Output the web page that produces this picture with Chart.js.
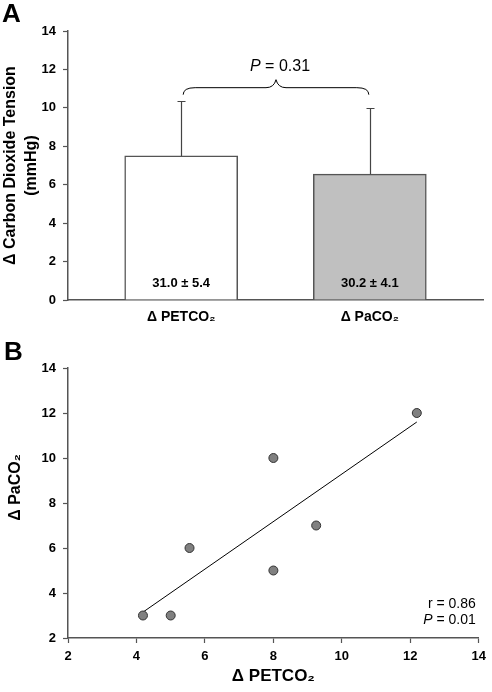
<!DOCTYPE html>
<html><head><meta charset="utf-8">
<script src="https://cdn.jsdelivr.net/npm/chart.js@4.4.1/dist/chart.umd.min.js"></script>
<style>
html,body{margin:0;padding:0;background:#fff;}
body{width:492px;height:692px;position:relative;overflow:hidden;font-family:"Liberation Sans",Arial,sans-serif;}
.panel{position:absolute;left:0;}
#wrapA{top:0;width:492px;height:340px;}
#wrapB{top:340px;width:492px;height:352px;}
.lbl{position:absolute;font-weight:bold;font-size:26px;line-height:1;color:#000;}
canvas{display:block;}
</style></head><body>
<div class="panel" id="wrapA"><canvas id="chartA" width="492" height="340"></canvas></div>
<div class="panel" id="wrapB"><canvas id="chartB" width="492" height="352"></canvas></div>
<div class="lbl" style="left:2px;top:0px;">A</div>
<div class="lbl" style="left:4px;top:338px;">B</div>
<script>
// ---- Panel A data ----
const categoriesA = ['Δ PETCO₂', 'Δ PaCO₂'];
const meansA = [7.5, 6.55];
const sdA = [2.85, 3.45];
const barNotesA = ['31.0 ± 5.4', '30.2 ± 4.1'];
const yTicksA = [0, 2, 4, 6, 8, 10, 12, 14];
const pValueA = '0.31';

// ---- Panel B data ----
const petco2B = [4.19, 5.0, 5.55, 8.0, 8.0, 9.25, 12.19];
const paco2B = [3, 3, 6, 10, 5, 7, 12];
const fitLineX = [4.19, 12.19];
const fitLineY = [3.15, 11.6];
const ticksB = [2, 4, 6, 8, 10, 12, 14];
const rValueB = '0.86';
const pValueB = '0.01';

const FAM = '"Liberation Sans", Arial, sans-serif';
const AX = '#555';

function mixedText(ctx, parts, x, y, align) {
  const widths = parts.map(p => { ctx.font = (p.italic ? 'italic ' : '') + p.size + 'px ' + FAM; return ctx.measureText(p.t).width; });
  const total = widths.reduce((a, b) => a + b, 0);
  let cx = align === 'right' ? x - total : align === 'center' ? x - total / 2 : x;
  ctx.textAlign = 'left';
  ctx.textBaseline = 'middle';
  parts.forEach((p, i) => {
    ctx.font = (p.italic ? 'italic ' : '') + p.size + 'px ' + FAM;
    ctx.fillText(p.t, cx, y);
    cx += widths[i];
  });
}

const annotA = {
  id: 'annotA',
  afterDatasetsDraw(chart) {
    const {ctx, scales: {x, y}} = chart;
    ctx.save();
    ctx.strokeStyle = '#444';
    ctx.lineWidth = 1.2;
    meansA.forEach((m, i) => {
      const px = Math.round(x.getPixelForValue(i)) + 0.5;
      const y0 = y.getPixelForValue(m);
      const y1 = Math.round(y.getPixelForValue(m + sdA[i])) + 0.5;
      ctx.beginPath();
      ctx.moveTo(px, y0); ctx.lineTo(px, y1);
      ctx.moveTo(px - 4, y1); ctx.lineTo(px + 4, y1);
      ctx.stroke();
    });
    ctx.fillStyle = '#000';
    ctx.font = 'bold 13px ' + FAM;
    ctx.textAlign = 'center';
    ctx.textBaseline = 'middle';
    barNotesA.forEach((t, i) => {
      ctx.fillText(t, x.getPixelForValue(i), y.getPixelForValue(0) - 17);
    });
    const tops = meansA.map((m, i) => m + sdA[i]);
    const level = Math.max(...tops) + 0.7;
    const yL = y.getPixelForValue(level);
    const xL = x.getPixelForValue(0) + 2;
    const xR = x.getPixelForValue(1) - 1;
    const xM = (xL + xR) / 2;
    ctx.strokeStyle = '#000';
    ctx.lineWidth = 1;
    ctx.beginPath();
    ctx.moveTo(xL, yL + 7);
    ctx.quadraticCurveTo(xL, yL, xL + 12, yL);
    ctx.lineTo(xM - 10, yL);
    ctx.quadraticCurveTo(xM - 2, yL, xM, yL - 8);
    ctx.quadraticCurveTo(xM + 2, yL, xM + 10, yL);
    ctx.lineTo(xR - 12, yL);
    ctx.quadraticCurveTo(xR, yL, xR, yL + 7);
    ctx.stroke();
    ctx.fillStyle = '#000';
    mixedText(ctx, [{t: 'P', italic: true, size: 16}, {t: ' = ' + pValueA, italic: false, size: 16}], xM + 4, yL - 21, 'center');
    ctx.restore();
  }
};

const annotB = {
  id: 'annotB',
  afterDatasetsDraw(chart) {
    const {ctx, chartArea} = chart;
    ctx.save();
    ctx.fillStyle = '#000';
    mixedText(ctx, [{t: 'r = ' + rValueB, italic: false, size: 14}], chartArea.right - 3, chartArea.bottom - 34, 'right');
    mixedText(ctx, [{t: 'P', italic: true, size: 14}, {t: ' = ' + pValueB, italic: false, size: 14}], chartArea.right - 3, chartArea.bottom - 18, 'right');
    ctx.restore();
  }
};

const tickFont = {family: FAM, size: 13, weight: 'bold'};

new Chart(document.getElementById('chartA'), {
  type: 'bar',
  data: {
    datasets: [{
      data: meansA.map((v, i) => ({x: i, y: v})),
      backgroundColor: ['#ffffff', '#c0c0c0'],
      borderColor: '#555',
      borderWidth: 1.5,
      barThickness: 113
    }]
  },
  options: {
    responsive: false,
    animation: false,
    events: [],
    layout: {padding: {left: 0, right: 9, top: 31, bottom: 0}},
    plugins: {legend: {display: false}, tooltip: {enabled: false}},
    scales: {
      x: {
        type: 'linear', min: -0.6, max: 1.6, offset: false, grace: 0,
        afterBuildTicks: s => { s.ticks = categoriesA.map((c, i) => ({value: i})); },
        afterFit: s => { s.height = 40; },
        ticks: {callback: v => categoriesA[v], font: {family: FAM, size: 14, weight: 'bold'}, color: '#000', padding: 9, autoSkip: false, maxRotation: 0},
        grid: {display: true, drawOnChartArea: false, drawTicks: false},
        border: {color: AX, width: 1.5}
      },
      y: {
        min: 0, max: 14,
        afterBuildTicks: s => { s.ticks = yTicksA.map(v => ({value: v})); },
        afterFit: s => { s.width = 68; },
        ticks: {font: tickFont, color: '#000', padding: 7},
        grid: {drawOnChartArea: false, drawTicks: true, tickLength: 5, color: AX, tickWidth: 1.2},
        border: {color: AX, width: 1.5},
        title: {display: true, text: ['Δ Carbon Dioxide Tension', '(mmHg)'], font: {family: FAM, size: 16, weight: 'bold', lineHeight: 1.3}, color: '#000', padding: {top: 0, bottom: 0}}
      }
    }
  },
  plugins: [annotA]
});

new Chart(document.getElementById('chartB'), {
  type: 'scatter',
  data: {
    datasets: [
      {
        data: petco2B.map((v, i) => ({x: v, y: paco2B[i]})),
        pointRadius: 4.5,
        pointBackgroundColor: '#808080',
        pointBorderColor: '#333',
        pointBorderWidth: 1,
        order: 0
      },
      {
        data: fitLineX.map((v, i) => ({x: v, y: fitLineY[i]})),
        showLine: true,
        borderColor: '#000',
        borderWidth: 1,
        pointRadius: 0,
        order: 1
      }
    ]
  },
  options: {
    responsive: false,
    animation: false,
    events: [],
    layout: {padding: {left: 0, right: 9, top: 28, bottom: 0}},
    plugins: {legend: {display: false}, tooltip: {enabled: false}},
    scales: {
      x: {
        type: 'linear', min: 2, max: 14,
        afterBuildTicks: s => { s.ticks = ticksB.map(v => ({value: v})); },
        afterFit: s => { s.height = 54; },
        ticks: {font: tickFont, color: '#000', padding: 6, autoSkip: false, maxRotation: 0},
        grid: {drawOnChartArea: false, drawTicks: true, tickLength: 5, color: AX, tickWidth: 1.2},
        border: {color: AX, width: 1.5},
        title: {display: true, text: 'Δ PETCO₂', font: {family: FAM, size: 17, weight: 'bold'}, color: '#000', padding: {top: 0, bottom: 5}}
      },
      y: {
        type: 'linear', min: 2, max: 14,
        afterBuildTicks: s => { s.ticks = ticksB.map(v => ({value: v})); },
        afterFit: s => { s.width = 68; },
        ticks: {font: tickFont, color: '#000', padding: 7},
        grid: {drawOnChartArea: false, drawTicks: true, tickLength: 5, color: AX, tickWidth: 1.2},
        border: {color: AX, width: 1.5},
        title: {display: true, text: '       Δ PaCO₂', font: {family: FAM, size: 16, weight: 'bold'}, color: '#000', padding: {top: 6, bottom: 0}}
      }
    }
  },
  plugins: [annotB]
});
</script>
</body></html>
